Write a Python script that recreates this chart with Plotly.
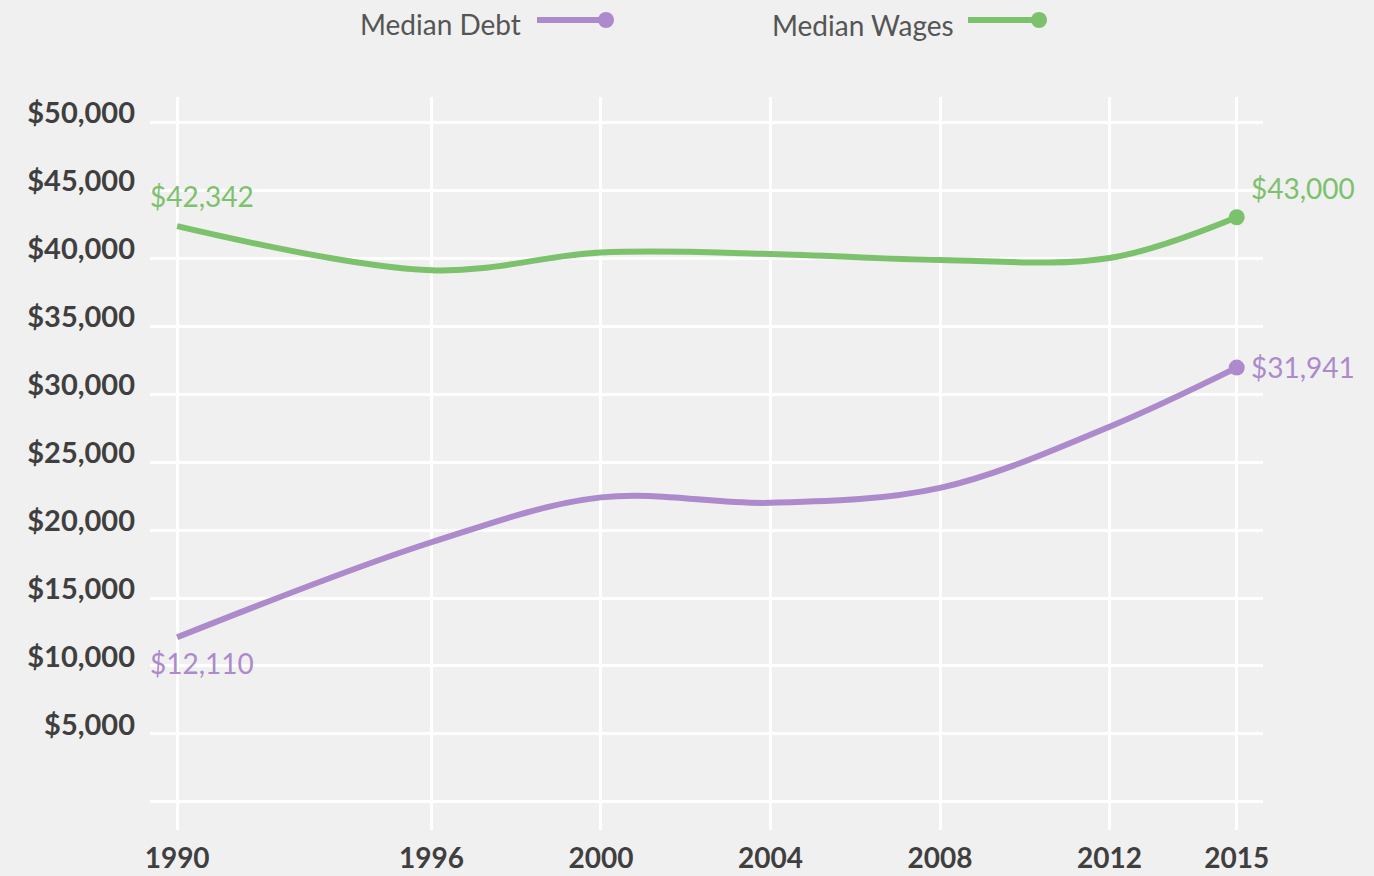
import plotly.graph_objects as go

# ---- data ----
years = [1990, 1996, 2000, 2004, 2008, 2012, 2015]
median_debt = [12110, 19100, 22400, 22000, 23100, 27600, 31941]
median_wages = [42342, 39100, 40400, 40300, 39850, 40000, 43000]
x_ticks = [1990, 1996, 2000, 2004, 2008, 2012, 2015]
y_ticks = [0, 5000, 10000, 15000, 20000, 25000, 30000, 35000, 40000, 45000, 50000]
y_tick_text = [""] + ["${:,}".format(v) for v in y_ticks[1:]]
series_names = ["Median Debt", "Median Wages"]

PURPLE = "#ad8acb"
GREEN = "#7cc16b"
BG = "#f0f0f0"
FONT = "Lato"

W, H = 1374, 876
ML, MR, MT, MB = 150, 111, 97, 46
PW, PH = W - ML - MR, H - MT - MB


def px(x):
    return (x - ML) / PW


def py(y):
    return (H - MB - y) / PH


fig = go.Figure()
fig.add_trace(go.Scatter(
    x=years, y=median_debt, mode="lines", line=dict(color=PURPLE, width=6, shape="spline"),
    name=series_names[0], hoverinfo="skip"))
fig.add_trace(go.Scatter(
    x=years, y=median_wages, mode="lines", line=dict(color=GREEN, width=6, shape="spline"),
    name=series_names[1], hoverinfo="skip"))
# end markers
fig.add_trace(go.Scatter(
    x=[years[-1]], y=[median_debt[-1]], mode="markers",
    marker=dict(color=PURPLE, size=16), hoverinfo="skip"))
fig.add_trace(go.Scatter(
    x=[years[-1]], y=[median_wages[-1]], mode="markers",
    marker=dict(color=GREEN, size=16), hoverinfo="skip"))

lab_font = dict(family=FONT, size=28)
annotations = [
    dict(x=years[0], y=median_wages[0], text="${:,}".format(median_wages[0]), showarrow=False,
         xanchor="left", yanchor="middle", xshift=-29, yshift=30, font=dict(lab_font, color=GREEN)),
    dict(x=years[0], y=median_debt[0], text="${:,}".format(median_debt[0]), showarrow=False,
         xanchor="left", yanchor="middle", xshift=-29, yshift=-26, font=dict(lab_font, color=PURPLE)),
    dict(x=years[-1], y=median_wages[-1], text="${:,}".format(median_wages[-1]), showarrow=False,
         xanchor="left", yanchor="middle", xshift=12, yshift=29, font=dict(lab_font, color=GREEN)),
    dict(x=years[-1], y=median_debt[-1], text="${:,}".format(median_debt[-1]), showarrow=False,
         xanchor="left", yanchor="middle", xshift=12, yshift=1, font=dict(lab_font, color=PURPLE)),
    # custom legend text
    dict(xref="paper", yref="paper", x=px(523), y=py(24), text=series_names[0], showarrow=False,
         xanchor="right", yanchor="middle", font=dict(family=FONT, size=28, color="#555555")),
    dict(xref="paper", yref="paper", x=px(956), y=py(25), text=series_names[1], showarrow=False,
         xanchor="right", yanchor="middle", font=dict(family=FONT, size=28, color="#555555")),
]

shapes = [
    dict(type="line", xref="paper", yref="paper", x0=px(537), x1=px(602), y0=py(20), y1=py(20),
         line=dict(color=PURPLE, width=6)),
    dict(type="circle", xref="paper", yref="paper", x0=px(598), x1=px(614), y0=py(12), y1=py(28),
         fillcolor=PURPLE, line=dict(width=0)),
    dict(type="line", xref="paper", yref="paper", x0=px(968), x1=px(1034), y0=py(20), y1=py(20),
         line=dict(color=GREEN, width=6)),
    dict(type="circle", xref="paper", yref="paper", x0=px(1031), x1=px(1047), y0=py(12), y1=py(28),
         fillcolor=GREEN, line=dict(width=0)),
]

fig.update_layout(
    width=W, height=H,
    paper_bgcolor=BG, plot_bgcolor=BG,
    margin=dict(l=ML, r=MR, t=MT, b=MB, pad=0, autoexpand=False),
    showlegend=False,
    annotations=annotations,
    shapes=shapes,
    font=dict(family=FONT),
    xaxis=dict(
        range=[1989.36, 2015.62], tickvals=x_ticks, ticktext=[str(v) for v in x_ticks],
        showgrid=True, gridcolor="#ffffff", gridwidth=3, zeroline=False, showline=False,
        ticks="", ticklabelstandoff=9, automargin=False,
        tickfont=dict(family=FONT, size=28, color="#3f3f3f", weight="bold"),
    ),
    yaxis=dict(
        range=[-2060, 51840], tickvals=y_ticks, ticktext=y_tick_text,
        showgrid=True, gridcolor="#ffffff", gridwidth=3, zeroline=False, showline=False,
        ticks="", ticklabelstandoff=14, ticklabelshift=-9, automargin=False,
        tickfont=dict(family=FONT, size=29, color="#3f3f3f", weight="bold"),
    ),
)

fig.write_html(
    "out.html",
    config={"displayModeBar": False},
    post_script="document.body.style.margin='0';document.body.style.background='%s';" % BG,
)
